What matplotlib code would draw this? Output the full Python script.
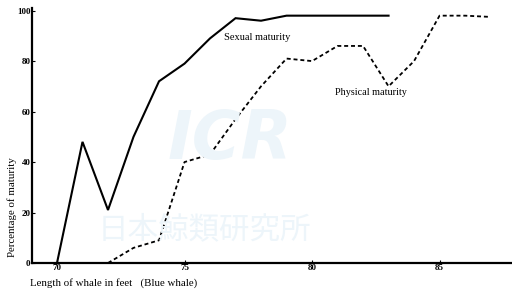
import matplotlib
matplotlib.use("Agg")
import matplotlib.pyplot as plt

plt.rcParams['font.family'] = ['Liberation Serif', 'DejaVu Serif']

# Data (length of whale in feet vs percentage of maturity)
sexual_len = [70, 71, 72, 73, 74, 75, 76, 77, 78, 79, 80, 81, 82, 83]
sexual_pct = [0, 48, 21, 50, 72, 79, 89, 97, 96, 98, 98, 98, 98, 98]
physical_len = [72, 73, 74, 75, 76, 77, 78, 79, 80, 81, 82, 83, 84, 85, 86, 87]
physical_pct = [0, 6, 9, 40, 43, 57, 70, 81, 80, 86, 86, 70, 80, 98, 98, 97.5]
x_ticks = [70, 75, 80, 85]
y_ticks = [0, 20, 40, 60, 80, 100]

fig = plt.figure(figsize=(5.12, 2.91), dpi=100)
ax = fig.add_axes([0.0625, 0.0962, 0.9375, 0.876])

# faint watermark
wm = '#edf5fa'
fig.text(0.45, 0.52, 'ICR', fontsize=48, fontweight='bold', color=wm, ha='center',
         va='center', family=['DejaVu Sans'], zorder=0, style='italic')
fig.text(0.40, 0.21, '日本鯨類研究所', fontsize=22, color=wm, ha='center', va='center',
         family=['Noto Sans CJK JP', 'DejaVu Sans'], zorder=0)
ax.patch.set_alpha(0)

ax.plot(sexual_len, sexual_pct, color='black', lw=1.5, solid_joinstyle='miter')
ax.plot(physical_len, physical_pct, color='black', lw=1.3, linestyle=(0, (2.2, 1.6)))

ax.set_xlim(69.02, 87.84)
ax.set_ylim(0, 101)
ax.spines['top'].set_visible(False)
ax.spines['right'].set_visible(False)
ax.spines['left'].set_linewidth(1.6)
ax.spines['bottom'].set_linewidth(1.6)
ax.set_xticks(x_ticks)
ax.set_yticks(y_ticks)
ax.tick_params(axis='both', direction='in', length=2, width=0.8, labelsize=6.5, pad=1)
for lbl in ax.get_xticklabels() + ax.get_yticklabels():
    lbl.set_fontweight('bold')

ax.text(77.85, 89.5, 'Sexual maturity', fontsize=7.5, ha='center', va='center')
ax.text(82.3, 67.5, 'Physical maturity', fontsize=7.3, ha='center', va='center')

fig.text(0.023, 0.29, 'Percentage of maturity', rotation=90, fontsize=7.8,
         ha='center', va='center')
fig.text(0.058, 0.027, 'Length of whale in feet   (Blue whale)', fontsize=7.8,
         ha='left', va='center')

fig.savefig('out.png', dpi=100)
